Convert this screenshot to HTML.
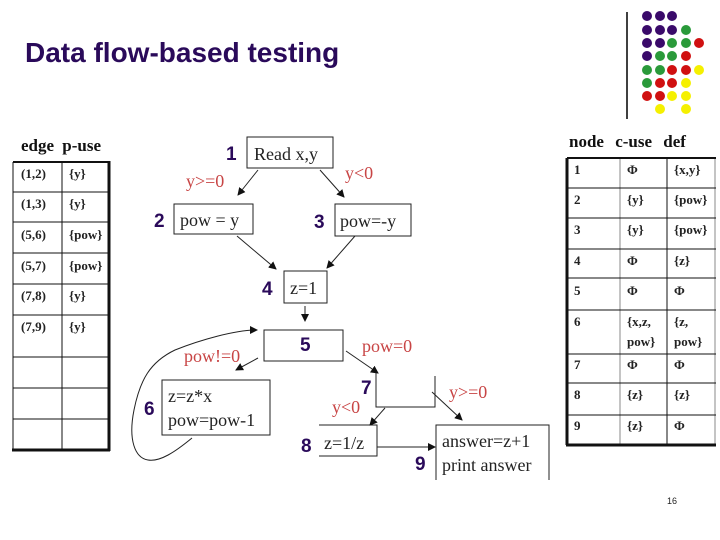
<!DOCTYPE html>
<html><head><meta charset="utf-8"><style>
html,body{margin:0;padding:0;background:#fff;}
svg{display:block;}
.t{font-family:"Liberation Serif",serif;font-weight:bold;font-size:13px;fill:#222;}
.n{font-family:"Liberation Sans",sans-serif;font-weight:bold;font-size:19px;fill:#2a0a5a;}
.c{font-family:"Liberation Serif",serif;font-size:18px;fill:#222;}
.r{font-family:"Liberation Serif",serif;font-size:18px;fill:#c84545;}
.h{font-family:"Liberation Serif",serif;font-weight:bold;font-size:17px;fill:#111;}
</style></head><body>
<svg width="720" height="540" viewBox="0 0 720 540" xmlns="http://www.w3.org/2000/svg">
<defs><marker id="a" markerWidth="8" markerHeight="8" refX="7" refY="4" orient="auto" markerUnits="userSpaceOnUse"><path d="M0,0 L8,4 L0,8 z" fill="#111"/></marker></defs>
<text x="25" y="62" font-family="Liberation Sans,sans-serif" font-weight="bold" font-size="28" fill="#2a0a5a">Data flow-based testing</text>
<line x1="627" y1="12" x2="627" y2="119" stroke="#000" stroke-width="1.5"/>
<g>
<circle cx="647" cy="16" r="5" fill="#3a0a6a"/><circle cx="660" cy="16" r="5" fill="#3a0a6a"/><circle cx="672" cy="16" r="5" fill="#3a0a6a"/>
<circle cx="647" cy="30" r="5" fill="#3a0a6a"/><circle cx="660" cy="30" r="5" fill="#3a0a6a"/><circle cx="672" cy="30" r="5" fill="#3a0a6a"/><circle cx="686" cy="30" r="5" fill="#2a9a3a"/>
<circle cx="647" cy="43" r="5" fill="#3a0a6a"/><circle cx="660" cy="43" r="5" fill="#3a0a6a"/><circle cx="672" cy="43" r="5" fill="#2a9a3a"/><circle cx="686" cy="43" r="5" fill="#2a9a3a"/><circle cx="699" cy="43" r="5" fill="#d01010"/>
<circle cx="647" cy="56" r="5" fill="#3a0a6a"/><circle cx="660" cy="56" r="5" fill="#2a9a3a"/><circle cx="672" cy="56" r="5" fill="#2a9a3a"/><circle cx="686" cy="56" r="5" fill="#d01010"/>
<circle cx="647" cy="70" r="5" fill="#2a9a3a"/><circle cx="660" cy="70" r="5" fill="#2a9a3a"/><circle cx="672" cy="70" r="5" fill="#d01010"/><circle cx="686" cy="70" r="5" fill="#d01010"/><circle cx="699" cy="70" r="5" fill="#f5f000"/>
<circle cx="647" cy="83" r="5" fill="#2a9a3a"/><circle cx="660" cy="83" r="5" fill="#d01010"/><circle cx="672" cy="83" r="5" fill="#d01010"/><circle cx="686" cy="83" r="5" fill="#f5f000"/>
<circle cx="647" cy="96" r="5" fill="#d01010"/><circle cx="660" cy="96" r="5" fill="#d01010"/><circle cx="672" cy="96" r="5" fill="#f5f000"/><circle cx="686" cy="96" r="5" fill="#f5f000"/>
<circle cx="660" cy="109" r="5" fill="#f5f000"/><circle cx="686" cy="109" r="5" fill="#f5f000"/>
</g>
<!-- left table -->
<text x="21" y="151" class="h" word-spacing="4">edge p-use</text>
<g stroke="#111" stroke-width="1">
<line x1="13" y1="162" x2="13" y2="450"/><line x1="62" y1="162" x2="62" y2="450"/>
<line x1="13" y1="162" x2="109" y2="162" stroke-width="2"/>
<line x1="13" y1="192" x2="109" y2="192"/><line x1="13" y1="222" x2="109" y2="222"/><line x1="13" y1="253" x2="109" y2="253"/><line x1="13" y1="284" x2="109" y2="284"/><line x1="13" y1="315" x2="109" y2="315"/><line x1="13" y1="357" x2="109" y2="357"/><line x1="13" y1="388" x2="109" y2="388"/><line x1="13" y1="419" x2="109" y2="419"/>
<line x1="109" y1="161" x2="109" y2="451" stroke-width="3"/><line x1="12" y1="450" x2="110" y2="450" stroke-width="3"/>
</g>
<g>
<text x="21" y="178" class="t">(1,2)</text><text x="69" y="178" class="t">{y}</text>
<text x="21" y="208" class="t">(1,3)</text><text x="69" y="208" class="t">{y}</text>
<text x="21" y="239" class="t">(5,6)</text><text x="69" y="239" class="t">{pow}</text>
<text x="21" y="270" class="t">(5,7)</text><text x="69" y="270" class="t">{pow}</text>
<text x="21" y="300" class="t">(7,8)</text><text x="69" y="300" class="t">{y}</text>
<text x="21" y="331" class="t">(7,9)</text><text x="69" y="331" class="t">{y}</text>
</g>
<!-- right table -->
<text x="569" y="147" class="h" word-spacing="7">node c-use def</text>
<g stroke="#111" stroke-width="1">
<line x1="567" y1="158" x2="567" y2="445" stroke-width="3"/><line x1="620" y1="158" x2="620" y2="445" stroke="#888"/><line x1="667" y1="158" x2="667" y2="445"/><line x1="715" y1="158" x2="715" y2="445" stroke="#888"/>
<line x1="567" y1="158" x2="716" y2="158" stroke-width="2"/>
<line x1="567" y1="188" x2="716" y2="188"/><line x1="567" y1="218" x2="716" y2="218"/><line x1="567" y1="249" x2="716" y2="249"/><line x1="567" y1="278" x2="716" y2="278"/><line x1="567" y1="310" x2="716" y2="310"/><line x1="567" y1="354" x2="716" y2="354"/><line x1="567" y1="383" x2="716" y2="383"/><line x1="567" y1="415" x2="716" y2="415"/>
<line x1="566" y1="445" x2="716" y2="445" stroke-width="3"/>
</g>
<g>
<text x="574" y="174" class="t">1</text><text x="627" y="174" class="t">Φ</text><text x="674" y="174" class="t">{x,y}</text>
<text x="574" y="204" class="t">2</text><text x="627" y="204" class="t">{y}</text><text x="674" y="204" class="t">{pow}</text>
<text x="574" y="234" class="t">3</text><text x="627" y="234" class="t">{y}</text><text x="674" y="234" class="t">{pow}</text>
<text x="574" y="265" class="t">4</text><text x="627" y="265" class="t">Φ</text><text x="674" y="265" class="t">{z}</text>
<text x="574" y="295" class="t">5</text><text x="627" y="295" class="t">Φ</text><text x="674" y="295" class="t">Φ</text>
<text x="574" y="326" class="t">6</text><text x="627" y="326" class="t">{x,z,</text><text x="674" y="326" class="t">{z,</text>
<text x="627" y="346" class="t">pow}</text><text x="674" y="346" class="t">pow}</text>
<text x="574" y="369" class="t">7</text><text x="627" y="369" class="t">Φ</text><text x="674" y="369" class="t">Φ</text>
<text x="574" y="399" class="t">8</text><text x="627" y="399" class="t">{z}</text><text x="674" y="399" class="t">{z}</text>
<text x="574" y="430" class="t">9</text><text x="627" y="430" class="t">{z}</text><text x="674" y="430" class="t">Φ</text>
</g>
<!-- flowchart -->
<g fill="none" stroke="#222" stroke-width="1">
<rect x="247" y="137" width="86" height="31"/>
<rect x="174" y="204" width="79" height="30"/>
<rect x="335" y="204" width="76" height="32"/>
<rect x="284" y="271" width="43" height="32"/>
<rect x="264" y="330" width="79" height="31"/>
<rect x="162" y="380" width="108" height="55"/>
<polyline points="376,372 376,407 435,407 435,376"/>
<polyline points="319,425 377,425 377,456 319,456"/>
<polyline points="436,480 436,425 549,425 549,480"/>
</g>
<g stroke="#222" stroke-width="1" fill="none" marker-end="url(#a)">
<line x1="258" y1="170" x2="238" y2="195"/>
<line x1="320" y1="170" x2="344" y2="197"/>
<line x1="237" y1="236" x2="276" y2="269"/>
<line x1="355" y1="236" x2="327" y2="268"/>
<line x1="305" y1="306" x2="305" y2="321"/>
<line x1="258" y1="358" x2="236" y2="370"/>
<line x1="346" y1="351" x2="378" y2="373"/>
<line x1="385" y1="408" x2="370" y2="425"/>
<line x1="432" y1="392" x2="462" y2="420"/>
<line x1="377" y1="447" x2="435" y2="447"/>
<path d="M192,438 C175,452 160,462 148,460 C135,458 128,440 134,410 C140,380 150,362 175,350 C200,340 235,330 257,330"/>
</g>
<text x="226" y="160" class="n">1</text><text x="254" y="160" class="c">Read x,y</text>
<text x="154" y="227" class="n">2</text><text x="180" y="226" class="c">pow = y</text>
<text x="314" y="228" class="n">3</text><text x="340" y="227" class="c">pow=-y</text>
<text x="262" y="295" class="n">4</text><text x="290" y="294" class="c">z=1</text>
<text x="300" y="351" class="n">5</text>
<text x="144" y="415" class="n">6</text><text x="168" y="402" class="c">z=z*x</text><text x="168" y="426" class="c">pow=pow-1</text>
<text x="361" y="394" class="n">7</text>
<text x="301" y="452" class="n">8</text><text x="324" y="449" class="c">z=1/z</text>
<text x="415" y="470" class="n">9</text><text x="442" y="447" class="c">answer=z+1</text><text x="442" y="471" class="c">print answer</text>
<text x="186" y="187" class="r">y&gt;=0</text>
<text x="345" y="179" class="r">y&lt;0</text>
<text x="184" y="362" class="r">pow!=0</text>
<text x="362" y="352" class="r">pow=0</text>
<text x="332" y="413" class="r">y&lt;0</text>
<text x="449" y="398" class="r">y&gt;=0</text>
<text x="667" y="504" font-family="Liberation Sans,sans-serif" font-size="9" fill="#222">16</text>
</svg>
</body></html>
